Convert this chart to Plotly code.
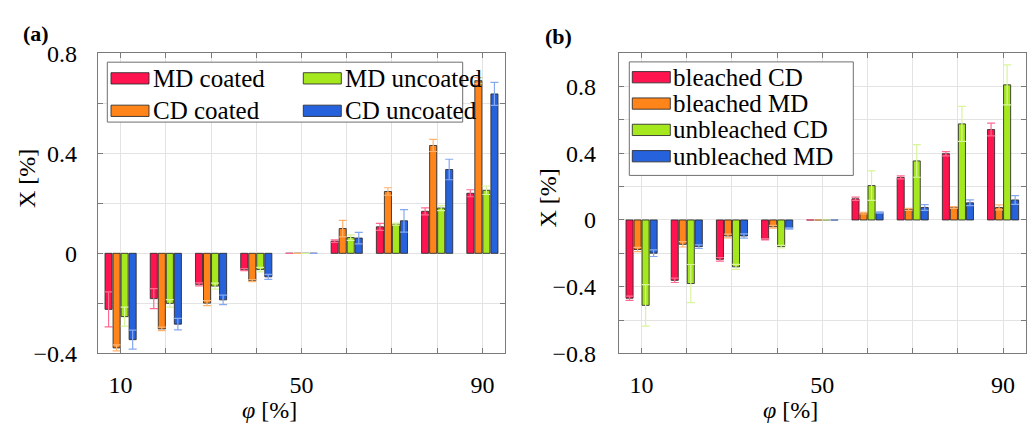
import plotly.graph_objects as go

# ---------------- data ----------------
phi = [10, 20, 30, 40, 50, 60, 70, 80, 90]

a_names = ["MD coated", "CD coated", "MD uncoated", "CD uncoated"]
a_md_coated = [-0.224, -0.181, -0.124, -0.065, 0, 0.049, 0.106, 0.168, 0.240]
a_md_coated_err = [0.070, 0.040, 0.006, 0.004, 0, 0.005, 0.014, 0.014, 0.014]
a_cd_coated = [-0.378, -0.302, -0.199, -0.109, 0, 0.099, 0.247, 0.431, 0.690]
a_cd_coated_err = [0.012, 0.007, 0.010, 0.004, 0, 0.033, 0.015, 0.024, 0.012]
a_md_uncoated = [-0.253, -0.200, -0.131, -0.065, 0, 0.063, 0.117, 0.181, 0.252]
a_md_uncoated_err = [0.038, 0.015, 0.012, 0.009, 0, 0.011, 0.004, 0.010, 0.017]
a_cd_uncoated = [-0.345, -0.283, -0.186, -0.094, 0, 0.061, 0.130, 0.335, 0.637]
a_cd_uncoated_err = [0.038, 0.023, 0.019, 0.010, 0, 0.023, 0.045, 0.041, 0.046]

b_names = ["bleached CD", "bleached MD", "unbleached CD", "unbleached MD"]
b_bleached_cd = [-0.469, -0.362, -0.236, -0.115, 0, 0.127, 0.255, 0.397, 0.542]
b_bleached_cd_err = [0.013, 0.013, 0.011, 0.004, 0, 0.010, 0.009, 0.013, 0.038]
b_bleached_md = [-0.177, -0.146, -0.096, -0.041, 0, 0.041, 0.064, 0.075, 0.075]
b_bleached_md_err = [0.013, 0.016, 0.011, 0.008, 0, 0.004, 0.006, 0.005, 0.015]
b_unbleached_cd = [-0.512, -0.381, -0.281, -0.160, 0, 0.206, 0.354, 0.576, 0.810]
b_unbleached_cd_err = [0.124, 0.114, 0.015, 0.008, 0, 0.088, 0.098, 0.105, 0.120]
b_unbleached_md = [-0.199, -0.160, -0.096, -0.051, 0, 0.045, 0.075, 0.103, 0.120]
b_unbleached_md_err = [0.020, 0.011, 0.013, 0.004, 0, 0.004, 0.017, 0.017, 0.026]

x_tick_vals = [10, 20, 30, 40, 50, 60, 70, 80, 90]
x_tick_text = ["10", "", "", "", "50", "", "", "", "90"]
a_y_tick_vals = [-0.4, -0.2, 0, 0.2, 0.4, 0.6, 0.8]
a_y_tick_text = ["\u22120.4", "", "0", "", "0.4", "", "0.8"]
b_y_tick_vals = [-0.8, -0.6, -0.4, -0.2, 0, 0.2, 0.4, 0.6, 0.8]
b_y_tick_text = ["\u22120.8", "", "\u22120.4", "", "0", "", "0.4", "", "0.8"]

# ---------------- styles ----------------
W, H = 1032, 436
FONT = "Liberation Serif"
colors = ["#FF1450", "#FF8419", "#A5E81E", "#2662DB"]
err_colors = ["#FF6A8F", "#FFB36E", "#D9F59B", "#86A8EE"]
outline = "rgba(40,40,40,0.85)"


def px(x):
    return x / W


def py(y):
    return 1 - y / H


fig = go.Figure()

a_vals = [a_md_coated, a_cd_coated, a_md_uncoated, a_cd_uncoated]
a_errs = [a_md_coated_err, a_cd_coated_err, a_md_uncoated_err, a_cd_uncoated_err]
b_vals = [b_bleached_cd, b_bleached_md, b_unbleached_cd, b_unbleached_md]
b_errs = [b_bleached_cd_err, b_bleached_md_err, b_unbleached_cd_err, b_unbleached_md_err]

for i in range(4):
    fig.add_trace(go.Bar(
        x=phi, y=a_vals[i], name=a_names[i], xaxis="x", yaxis="y",
        marker=dict(color=colors[i], line=dict(color=outline, width=1)),
        error_y=dict(type="data", array=a_errs[i], color=err_colors[i],
                     thickness=1.2, width=4),
        showlegend=False))
for i in range(4):
    fig.add_trace(go.Bar(
        x=phi, y=b_vals[i], name=b_names[i], xaxis="x2", yaxis="y2",
        marker=dict(color=colors[i], line=dict(color=outline, width=1)),
        error_y=dict(type="data", array=b_errs[i], color=err_colors[i],
                     thickness=1.2, width=4),
        showlegend=False))

axis_common = dict(
    showline=True, linecolor="#7A7A7A", linewidth=1.2, mirror="allticks",
    ticks="inside", ticklen=5, tickcolor="#7A7A7A", tickwidth=1,
    showgrid=True, gridcolor="#E3E3E3", gridwidth=1, zeroline=False,
    tickfont=dict(family=FONT, size=24, color="black"),
)

y_dom = [py(362), py(42.7)]

fig.update_layout(
    width=W, height=H,
    margin=dict(l=0, r=0, t=0, b=0),
    paper_bgcolor="white", plot_bgcolor="white",
    barmode="group", bargap=0.29, bargroupgap=0.12,
    font=dict(family=FONT, size=24, color="black"),
    xaxis=dict(domain=[px(98), px(505)], range=[5, 95], anchor="y",
               tickmode="array", tickvals=x_tick_vals, ticktext=x_tick_text,
               ticklabelstandoff=10, **axis_common),
    yaxis=dict(domain=y_dom, range=[-0.4, 0.8], anchor="x",
               tickmode="array", tickvals=a_y_tick_vals, ticktext=a_y_tick_text,
               ticklabelstandoff=15, **axis_common),
    xaxis2=dict(domain=[px(619), px(1025.7)], range=[5, 95], anchor="y2",
                tickmode="array", tickvals=x_tick_vals, ticktext=x_tick_text,
                ticklabelstandoff=10, **axis_common),
    yaxis2=dict(domain=y_dom, range=[-0.8, 1.0], anchor="x2",
                tickmode="array", tickvals=b_y_tick_vals, ticktext=b_y_tick_text,
                ticklabelstandoff=17, **axis_common),
)

shapes = []
annotations = []

# ---- legend (a): 2 columns x 2 rows ----
shapes.append(dict(type="rect", xref="paper", yref="paper", layer="above",
                   x0=px(107.3), x1=px(462.7), y0=py(116), y1=py(52.3),
                   fillcolor="white", line=dict(color="#6E6E6E", width=1)))
a_col_x = [111, 303.3]
a_row_y = [69.5, 104]
for i, name in enumerate(a_names):
    cx = a_col_x[i // 2]
    cy = a_row_y[i % 2]
    shapes.append(dict(type="rect", xref="paper", yref="paper", layer="above",
                       x0=px(cx), x1=px(cx + 38), y0=py(cy + 6), y1=py(cy - 6),
                       fillcolor=colors[i], line=dict(color=outline, width=1)))
    annotations.append(dict(text=name, xref="paper", yref="paper",
                            x=px(cx + 40), y=py(cy), xanchor="left", yanchor="middle",
                            showarrow=False, font=dict(family=FONT, size=25, color="black")))

# ---- legend (b): 1 column x 4 rows ----
shapes.append(dict(type="rect", xref="paper", yref="paper", layer="above",
                   x0=px(629.3), x1=px(853.3), y0=py(172.7), y1=py(52),
                   fillcolor="white", line=dict(color="#6E6E6E", width=1)))
b_row_y = [68.3, 96.3, 124.3, 152.3]
for i, name in enumerate(b_names):
    cx = 632.3
    cy = b_row_y[i]
    shapes.append(dict(type="rect", xref="paper", yref="paper", layer="above",
                       x0=px(cx), x1=px(cx + 38), y0=py(cy + 6), y1=py(cy - 6),
                       fillcolor=colors[i], line=dict(color=outline, width=1)))
    annotations.append(dict(text=name, xref="paper", yref="paper",
                            x=px(cx + 39), y=py(cy), xanchor="left", yanchor="middle",
                            showarrow=False, font=dict(family=FONT, size=25, color="black")))

# ---- axis titles & panel labels ----
for (x, y) in [(27, 176.5), (547.5, 196.7)]:
    annotations.append(dict(text="X [%]", xref="paper", yref="paper",
                            x=px(x), y=py(y), xanchor="center", yanchor="middle",
                            textangle=-90, showarrow=False,
                            font=dict(family=FONT, size=24, color="black")))
for (x, y) in [(269, 422), (790, 422)]:
    annotations.append(dict(text="<i>\u03c6</i> [%]", xref="paper", yref="paper",
                            x=px(x), y=py(y), xanchor="center", yanchor="middle",
                            showarrow=False,
                            font=dict(family=FONT, size=24, color="black")))
for (t, x, y) in [("(a)", 36, 21.5), ("(b)", 558.5, 25.5)]:
    annotations.append(dict(text="<b>" + t + "</b>", xref="paper", yref="paper",
                            x=px(x), y=py(y), xanchor="center", yanchor="middle",
                            showarrow=False,
                            font=dict(family=FONT, size=22, color="black")))

fig.update_layout(shapes=shapes, annotations=annotations)

fig.write_html("out.html")
